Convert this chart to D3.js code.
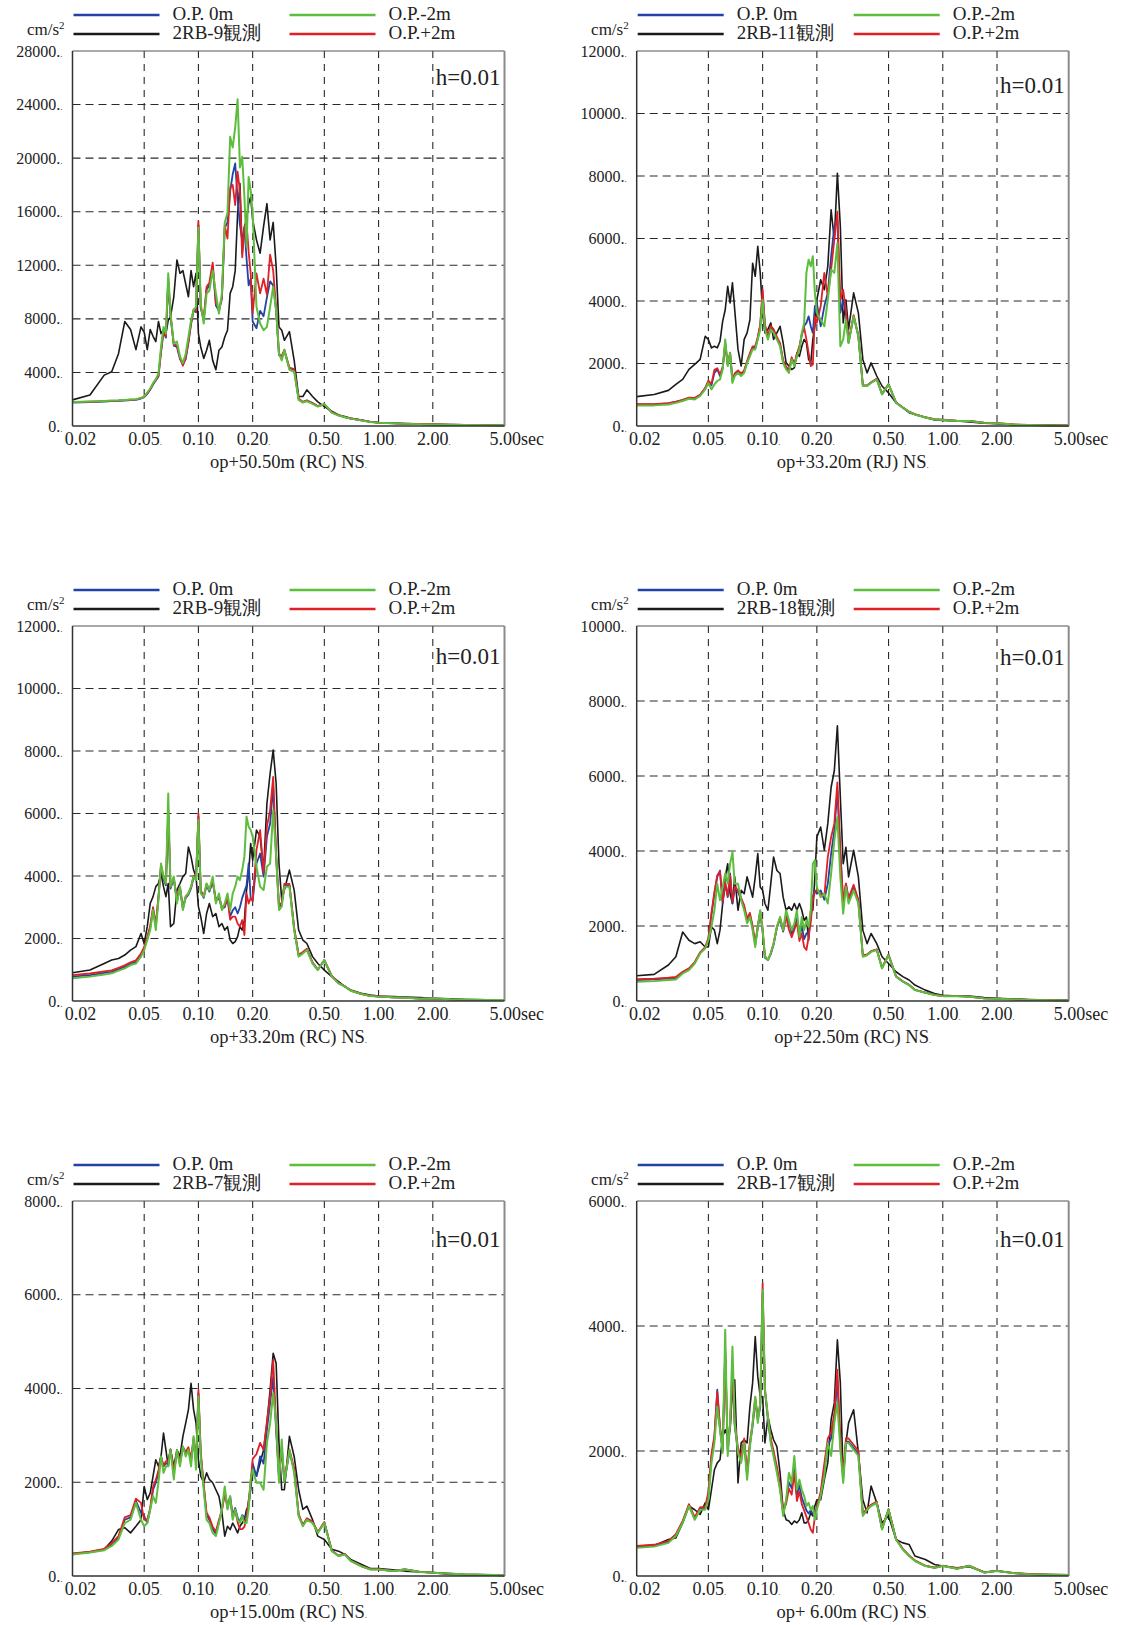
<!DOCTYPE html>
<html>
<head>
<meta charset="utf-8">
<script src="https://d3js.org/d3.v7.min.js"></script>
<style>
  body { margin: 0; background: #fff; }
  text { font-family: "Liberation Serif", "Times New Roman", serif; fill: #222; }
</style>
</head>
<body>
<svg id="chart" width="1121" height="1625"></svg>
<script>
// periods (sec) shared by every spectrum
var periods = [0.02,0.025,0.03,0.033,0.036,0.039,0.042,0.045,0.048,0.05,
  0.052,0.054,0.056,0.058,0.06,0.062,0.064,0.066,0.068,0.07,
  0.073,0.076,0.079,0.082,0.085,0.088,0.091,0.094,0.097,0.1,
  0.103,0.107,0.111,0.115,0.12,0.125,0.13,0.135,0.14,0.145,
  0.15,0.155,0.16,0.165,0.17,0.175,0.18,0.185,0.19,0.195,
  0.2,0.21,0.22,0.23,0.24,0.25,0.26,0.27,0.28,0.29,
  0.3,0.32,0.34,0.36,0.38,0.4,0.43,0.46,0.5,0.55,
  0.6,0.65,0.7,0.8,0.9,1.0,1.2,1.4,1.7,2.0,
  2.5,3.0,4.0,5.0];

var titles = ["op+50.50m (RC) NS", "op+33.20m (RJ) NS", "op+33.20m (RC) NS",
              "op+22.50m (RC) NS", "op+15.00m (RC) NS", "op+ 6.00m (RC) NS"];
var refNames = ["2RB-9観測", "2RB-11観測", "2RB-9観測", "2RB-18観測", "2RB-7観測", "2RB-17観測"];
var yMax = [28000, 12000, 12000, 10000, 8000, 6000];
var yStep = [4000, 2000, 2000, 2000, 2000, 2000];
var seriesNames = ["O.P. 0m", "O.P.-2m", "O.P.+2m"];
var xTicks = [0.02, 0.05, 0.1, 0.2, 0.5, 1, 2, 5];
var xTickText = ["0.02", "0.05", "0.10", "0.20", "0.50", "1.00", "2.00", "5.00"];
var xGrid = [0.05, 0.1, 0.2, 0.5, 1, 2];

// panel 1
var p1Black = [1950,2310,3800,4050,5400,7800,7200,5700,7400,7000,
  5700,7200,6700,6300,7800,6900,7200,6900,7900,8150,
  9650,12400,11400,11600,10600,9650,11600,10400,11400,6900,
  5900,5050,5650,6400,4900,4200,5650,5900,6650,7150,
  9900,10400,11600,15850,18100,12900,14900,15400,16600,17100,
  15400,13900,12900,14900,16600,13900,15200,11900,7400,7150,
  6400,7050,4900,2200,2200,2700,2200,1800,1450,1100,
  820,700,570,450,320,250,200,170,130,110,
  90,80,70,60];
var p1Blue = [1750,1780,1820,1850,1870,1900,1930,1960,2050,2150,
  2400,2700,3100,3400,3700,5500,7000,6600,10800,8200,
  6000,5900,5000,4600,5000,6200,7600,8600,8500,15000,
  8800,7900,10200,10500,12000,9000,8600,9500,14800,15200,
  17500,18800,19600,17000,15000,13900,14800,12500,10500,11000,
  7800,7300,8600,8200,9600,10800,10500,8600,5300,5100,
  5600,4300,4200,2000,1780,1900,1700,1480,1600,1020,
  800,660,560,430,310,245,205,175,145,125,
  100,80,60,50];
var p1Red = [1780,1810,1850,1880,1900,1930,1960,1990,2080,2180,
  2450,2750,3150,3450,3750,5600,7100,6700,11000,8300,
  6100,6000,5100,4500,5100,6300,7700,8700,8600,15300,
  8900,8000,10400,10700,12200,9200,8700,9600,15000,14000,
  17800,18000,16500,19000,17500,12600,14800,15200,13000,11400,
  8400,11400,9900,11000,9800,12800,11600,8800,5400,5200,
  5700,4350,4250,2050,1800,1920,1720,1500,1620,1030,
  810,670,565,435,315,250,210,180,150,130,
  105,85,65,55];
var p1Green = [1800,1830,1870,1900,1920,1950,1980,2000,2100,2200,
  2500,2800,3200,3500,3900,5900,7400,6900,11400,8400,
  6150,6300,5200,4700,5400,6650,7900,8650,8900,14800,
  9150,7650,9900,10100,11600,9900,8400,9900,15200,15900,
  21600,20800,22300,24400,19300,20100,17100,13400,18600,17600,
  15900,8900,7650,7150,7400,8900,10400,8650,5400,4900,
  5650,4200,4050,1950,1750,1850,1650,1450,1650,1000,
  780,650,550,420,300,240,200,170,140,120,
  100,80,60,50];

// panel 2
var p2Black = [940,1010,1140,1330,1490,1810,1970,2130,2870,2770,
  2500,2550,2500,2710,3350,3720,4470,3940,4580,3720,
  2450,1920,2770,2980,3400,5210,4790,5750,4900,3620,
  2980,3090,3300,2770,2980,3190,2660,2020,1920,1810,
  1860,2340,2230,2550,2770,2660,2130,2020,2770,3190,
  4040,4680,4360,5110,6920,5960,8090,6380,3300,4040,
  3090,4260,3620,2130,1700,2020,1600,1280,1060,745,
  585,425,370,270,190,180,160,130,90,75,
  40,30,20,15];
var p2Blue = [690,690,720,770,830,900,880,990,1200,1420,
  1300,1700,1810,1600,1850,2600,1950,2300,1450,1650,
  1750,1650,1750,2050,2300,2500,2500,2800,3200,4260,
  3200,2850,3150,3000,2800,2600,2050,1850,1750,2150,
  1950,2250,2500,2900,3200,3300,3510,3190,2980,3830,
  3940,3190,3830,4260,5430,6380,6600,3620,4040,3620,
  2660,3510,2870,1300,1290,1390,1500,1020,1330,750,
  590,455,375,275,215,195,165,160,100,85,
  45,30,20,15];
var p2Red = [700,700,730,780,840,910,900,1000,1220,1450,
  1350,1800,1850,1650,1880,2650,1980,2350,1480,1680,
  1780,1680,1780,2080,2330,2550,2550,2850,3250,4360,
  3250,2900,3200,3100,2850,2650,2100,1900,1800,2200,
  2000,2300,2550,2950,3150,2770,2340,1920,1970,3510,
  3300,3830,4900,4150,5000,5960,6860,4040,4360,3700,
  2700,3550,2900,1310,1300,1400,1510,1030,1340,755,
  595,460,380,280,220,200,170,165,105,90,
  48,32,22,16];
var p2Green = [660,660,690,740,800,870,850,960,1170,1380,
  1170,1330,1440,1490,1810,2770,1920,2340,1380,1600,
  1700,1600,1700,2020,2230,2450,2450,2770,3090,4040,
  3090,2770,3090,2980,2770,2550,2020,1810,1700,2130,
  1920,2230,2450,2980,3300,4900,5320,5110,5430,4260,
  3620,3400,3190,4040,5000,4900,5850,2550,2770,3400,
  2660,3510,2870,1280,1280,1380,1490,1010,1330,745,
  585,450,370,270,210,190,160,160,100,85,
  45,30,20,15];

// panel 3
var p3Black = [905,990,1200,1310,1360,1470,1630,1740,2160,1840,
  2380,3120,3340,3660,3760,4080,3660,3340,3760,2380,
  2480,3550,3760,3980,4080,4930,4620,4190,3980,3020,
  2700,2160,2800,3120,2700,2800,2380,2480,2270,2380,
  1950,1840,1900,2060,2380,2270,2590,3550,4080,5040,
  4510,5470,5260,4190,6320,7280,8030,6960,4400,3230,
  3550,4190,3550,2270,1950,1840,1420,1200,990,780,
  620,460,350,245,190,160,140,130,110,85,
  70,50,40,30];
var p3Blue = [780,830,900,930,1010,1090,1190,1250,1470,1680,
  2000,2350,2950,2400,3300,4300,3900,3700,6000,3600,
  3900,3200,3600,2950,3300,3400,3600,3950,3900,5900,
  3500,3300,3700,3500,3800,3200,3300,2950,3000,3300,
  2700,2900,3000,2800,3000,3300,3500,3700,4400,3300,
  3200,4400,4720,3980,5260,5680,6850,4620,3000,3100,
  3700,3700,2300,1450,1550,1650,1220,1000,1300,790,
  570,465,335,228,163,142,118,108,77,85,
  54,45,35,30];
var p3Red = [830,880,950,980,1060,1140,1240,1300,1520,1730,
  2050,2400,3000,2450,3350,4350,3950,3750,6100,3650,
  3950,3250,3650,3000,3350,3450,3650,4000,4000,6000,
  3550,3350,3750,3550,3850,3250,3350,3000,3050,3300,
  2600,2700,2700,2480,2380,2590,2110,3440,3120,3300,
  3200,4830,5470,4100,5580,6110,7170,4700,3050,3150,
  3750,3750,2350,1480,1570,1670,1240,1010,1310,800,
  575,470,340,230,165,145,120,110,78,86,
  55,46,36,31];
var p3Green = [725,780,850,885,970,1045,1150,1200,1420,1630,
  1950,2270,2910,2270,3230,4400,3980,3760,6640,3660,
  3980,3120,3660,2910,3340,3440,3660,3980,3870,5790,
  3440,3340,3760,3550,3980,3120,3440,2910,3120,3440,
  2910,3440,3660,3980,3870,4190,4620,5900,5580,5470,
  5260,4300,3660,3550,4300,4400,6110,4620,2910,3020,
  3660,3660,2270,1420,1520,1630,1200,990,1310,780,
  565,460,330,225,160,140,117,107,75,85,
  53,45,35,30];

// panel 4
var p4Black = [675,710,960,1180,1840,1620,1530,1580,1440,1440,
  1980,1890,1530,1890,2600,3310,3660,2860,2600,3310,
  2420,2950,2860,3310,3040,2770,3310,3930,3040,2950,
  2600,2420,3130,3840,3480,3400,2770,2420,2510,2420,
  2600,2420,2600,2420,2150,2240,1620,2420,2420,3310,
  4370,4640,4020,4730,5700,6140,7340,5430,3660,4100,
  3310,4020,3310,1890,1530,1800,1530,1180,1000,780,
  650,560,425,290,200,150,130,130,90,70,
  50,40,25,20];
var p4Blue = [560,575,600,620,760,850,1020,1280,1420,1650,
  2300,2860,3310,3480,2600,3130,2770,3400,2600,3000,
  2900,2700,2500,2150,2300,1950,1500,1950,2350,1850,
  1150,1090,1250,1500,1950,2200,1850,2300,2100,1800,
  1950,2200,1700,2000,1650,1800,1850,2200,2800,2950,
  2860,2950,2700,3130,3930,4550,5610,4020,2600,3130,
  2700,3050,2650,1200,1230,1320,1370,880,1230,655,
  520,430,295,222,162,132,131,116,71,61,
  41,31,21,16];
var p4Red = [580,595,620,640,780,870,1040,1300,1440,1680,
  2350,2900,3350,3450,2650,3150,2800,3350,2650,3050,
  2950,2750,2550,2200,2350,2000,1550,2000,2400,1900,
  1200,1100,1280,1520,1980,2220,1880,2250,1900,1700,
  1900,2100,1600,1800,1440,1360,1700,2100,2700,2900,
  2950,2850,2800,3840,4370,4730,5830,3930,2650,3130,
  2750,3100,2700,1220,1240,1330,1380,890,1240,660,
  525,435,300,225,165,135,132,117,72,62,
  42,32,22,17];
var p4Green = [515,530,560,575,735,825,1000,1270,1400,1620,
  1980,2420,3130,2690,3040,3400,3130,3660,3970,3130,
  3130,2690,2420,2070,2240,1890,1440,1980,2420,1890,
  1180,1090,1270,1530,1980,2240,1890,2420,2150,1890,
  2070,2420,1710,2240,1890,2150,1980,2420,3660,3750,
  3040,2770,2860,2600,3400,4280,4900,3310,2330,3040,
  2600,2950,2600,1180,1220,1310,1360,870,1220,650,
  515,425,290,220,160,130,130,115,70,60,
  40,30,20,15];

// panel 5
var p5Black = [475,510,570,745,990,1030,920,1060,1200,1910,
  1630,1770,2130,2480,2340,2550,3050,2690,2340,2690,
  2340,2690,2550,2980,3260,3550,4110,3550,3260,2480,
  2130,1990,2200,2060,1990,1840,1700,1350,850,1060,
  990,1130,1030,920,1060,1130,1200,1420,1490,1840,
  2270,2130,2410,2690,3260,3970,4750,4540,2840,1840,
  1840,2980,2550,1840,1420,1490,1200,850,780,570,
  530,460,355,250,160,160,130,105,85,70,
  35,28,20,15];
var p5Blue = [470,510,560,660,820,1200,1250,1600,1350,1280,
  1130,1420,1840,1990,2200,2550,2340,2400,2400,2700,
  2200,2650,2400,2750,2600,2700,2450,2900,2400,3900,
  2600,1900,1300,1200,1000,900,1150,1400,1800,1500,
  1700,1300,1450,1250,1150,1300,1250,1300,1600,1900,
  2400,2130,2550,2400,3120,3690,4250,3100,2100,2700,
  2000,2650,2250,1300,1080,1220,1150,930,1140,540,
  430,465,325,212,142,142,107,140,86,70,
  50,35,25,15];
var p5Red = [480,520,580,700,850,1250,1300,1650,1560,1200,
  1200,1450,1900,2050,2250,2550,2350,2450,2450,2700,
  2250,2650,2450,2750,2650,2750,2500,2950,2450,3970,
  2650,1950,1350,1250,1050,950,1200,1400,1750,1450,
  1650,1250,1400,1150,1000,1000,1050,1250,1600,2000,
  2500,2600,2840,2690,3300,3830,4610,3200,2150,2750,
  2050,2700,2300,1320,1090,1230,1160,940,1150,545,
  435,470,330,215,145,145,110,142,88,72,
  52,36,26,16];
var p5Green = [460,500,550,640,780,1130,1200,1560,1200,1060,
  1130,1420,1700,1560,1990,2550,2200,2340,2340,2690,
  2060,2690,2340,2770,2550,2690,2340,2980,2270,3830,
  2550,1840,1200,1130,920,850,1130,1420,1910,1420,
  1700,1200,1420,1200,1130,1280,1130,1130,1420,2060,
  2270,1990,1990,1840,2840,3260,3900,3260,1990,2910,
  1990,2690,2200,1280,1060,1200,1130,920,1130,530,
  425,460,320,210,140,140,105,140,85,70,
  50,35,25,15];

// panel 6
var p6Black = [480,490,585,610,850,1120,1060,985,1170,1060,
  1380,1700,1810,1860,2230,2340,2230,2340,2980,3140,
  1490,2130,2180,2130,2710,3090,3830,3190,2870,2870,
  2130,2550,2340,2180,2070,1650,1060,900,880,825,
  880,850,900,1010,850,850,900,1010,960,1120,
  1220,1220,1540,1810,2500,2770,3780,3090,1600,2130,
  2450,2660,1970,1220,1010,1440,1170,850,960,585,
  530,505,320,265,185,160,130,150,65,80,
  45,27,20,15];
var p6Blue = [470,490,550,660,870,1130,920,1080,1080,1300,
  1900,2200,2980,2350,2000,3620,2000,2400,3300,2400,
  2000,1850,2150,1600,2100,2400,2800,2500,2700,4520,
  2950,2500,2150,1950,1700,1400,1000,1200,1500,1400,
  1750,1300,1450,1250,1150,1050,1000,1050,1000,950,
  1100,1300,1700,2100,2200,2500,3140,2100,1550,2150,
  2150,2050,1950,980,1070,1130,1180,750,1065,590,
  430,325,245,162,132,162,117,162,56,81,
  46,31,21,16];
var p6Red = [480,500,560,670,880,1150,940,1100,1100,1350,
  1950,2250,2950,2400,2050,3550,2050,2450,3250,2450,
  2050,1900,2200,1650,2150,2450,2850,2550,2750,4680,
  3000,2550,2200,2000,1750,1450,1050,1150,1400,1300,
  1650,1200,1350,1150,1050,950,850,745,690,950,
  1100,1350,1800,2200,2300,2600,3300,2150,1600,2200,
  2200,2100,2000,1000,1080,1140,1190,760,1070,595,
  435,330,250,165,135,165,120,165,57,82,
  47,32,22,17];
var p6Green = [450,470,530,640,850,1120,900,1060,1060,1220,
  1810,2130,2710,2340,1970,3940,1920,2450,3670,2450,
  1970,1810,2130,1540,2070,2450,2870,2450,2770,4580,
  2980,2550,2130,1920,1650,1380,960,1220,1650,1490,
  1920,1380,1540,1380,1280,1120,1170,1060,1120,900,
  1060,1280,1600,2130,1920,2450,2770,2020,1490,2130,
  2130,2020,1920,960,1060,1120,1170,745,1060,585,
  425,320,240,160,130,160,115,160,55,80,
  45,30,20,15];

// order of drawing: observed (black), O.P. 0m, O.P.+2m, O.P.-2m
var panelSeries = [
  [p1Black, p1Blue, p1Red, p1Green],
  [p2Black, p2Blue, p2Red, p2Green],
  [p3Black, p3Blue, p3Red, p3Green],
  [p4Black, p4Blue, p4Red, p4Green],
  [p5Black, p5Blue, p5Red, p5Green],
  [p6Black, p6Blue, p6Red, p6Green]
];

var colors = ["#1a1a1a", "#2442a6", "#de2127", "#5dbd3d"];
var widths = [1.6, 1.8, 1.8, 2.0];

// layout
var W = 432, H = 375;
var colX = [72.5, 636.7], rowY = [51, 626, 1201];
var hLabelDy = [34, 42, 38, 39, 46, 46];

var svg = d3.select("#chart");
svg.append("rect").attr("width", 1121).attr("height", 1625).attr("fill", "#fff");

var x = d3.scaleLog().domain([0.02, 5]).range([0, W]);

panelSeries.forEach(function(series, i) {
  var g = svg.append("g")
    .attr("transform", "translate(" + colX[i % 2] + "," + rowY[Math.floor(i / 2)] + ")");
  var y = d3.scaleLinear().domain([0, yMax[i]]).range([H, 0]);
  var yTicks = d3.range(0, yMax[i] + 1, yStep[i]);

  // dashed grid
  g.selectAll(".hg").data(yTicks.slice(1, -1)).enter().append("line")
    .attr("x1", 0).attr("x2", W)
    .attr("y1", function(d) { return y(d); }).attr("y2", function(d) { return y(d); })
    .attr("stroke", "#2a2a2a").attr("stroke-width", 1.1).attr("stroke-dasharray", "8,5");
  g.selectAll(".vg").data(xGrid).enter().append("line")
    .attr("x1", function(d) { return x(d); }).attr("x2", function(d) { return x(d); })
    .attr("y1", 0).attr("y2", H)
    .attr("stroke", "#2a2a2a").attr("stroke-width", 1.1).attr("stroke-dasharray", "7,6");

  // spectra
  var line = d3.line()
    .x(function(d, k) { return x(periods[k]); })
    .y(function(d) { return y(d); });
  series.forEach(function(vals, s) {
    g.append("path")
      .datum(vals)
      .attr("d", line)
      .attr("fill", "none")
      .attr("stroke", colors[s])
      .attr("stroke-width", widths[s])
      .attr("stroke-linejoin", "round");
  });

  // frame
  g.append("line").attr("x1", 0).attr("x2", W).attr("y1", 0).attr("y2", 0)
    .attr("stroke", "#555").attr("stroke-width", 1.2);
  g.append("line").attr("x1", W).attr("x2", W).attr("y1", 0).attr("y2", H)
    .attr("stroke", "#8a8a8a").attr("stroke-width", 2);
  g.append("line").attr("x1", 0).attr("x2", 0).attr("y1", 0).attr("y2", H)
    .attr("stroke", "#333").attr("stroke-width", 1.5);
  g.append("line").attr("x1", 0).attr("x2", W).attr("y1", H).attr("y2", H)
    .attr("stroke", "#333").attr("stroke-width", 1.5);

  // y tick labels
  var yl = g.selectAll(".yl").data(yTicks).enter().append("text")
    .attr("x", -10).attr("y", function(d) { return y(d) + 5.5; })
    .attr("text-anchor", "end").style("font-size", "16px")
    .text(function(d) { return d + "."; });
  yl.append("tspan").style("font-size", "9px").text(".");

  // x tick labels
  xTicks.forEach(function(t, k) {
    var tx = g.append("text").attr("y", H + 19).style("font-size", "18px");
    if (k === 0) {
      tx.attr("x", x(t) + 8).attr("text-anchor", "middle").text(xTickText[k]);
    } else if (k === xTicks.length - 1) {
      tx.attr("x", x(t) - 15).attr("text-anchor", "start").text(xTickText[k] + "sec");
    } else {
      tx.attr("x", x(t) + 1).attr("text-anchor", "middle").text(xTickText[k]);
      tx.append("tspan").style("font-size", "9px").text(".");
    }
  });

  // panel title
  var tt = g.append("text").attr("x", W / 2).attr("y", H + 42)
    .attr("text-anchor", "middle").style("font-size", "18.5px").text(titles[i]);
  tt.append("tspan").style("font-size", "9px").text(".");

  // damping label
  g.append("text").attr("x", W - 4).attr("y", hLabelDy[i])
    .attr("text-anchor", "end").style("font-size", "23px").text("h=0.01");

  // unit
  var u = g.append("text").attr("x", -8).attr("y", -16)
    .attr("text-anchor", "end").style("font-size", "17px").text("cm/s");
  u.append("tspan").attr("dy", -6).style("font-size", "11px").text("2");

  // legend
  var leg = [
    { c: colors[1], t: seriesNames[0], lx: 0, ly: -36 },
    { c: colors[0], t: refNames[i], lx: 0, ly: -17 },
    { c: colors[3], t: seriesNames[1], lx: 216, ly: -36 },
    { c: colors[2], t: seriesNames[2], lx: 216, ly: -17 }
  ];
  leg.forEach(function(l) {
    g.append("line").attr("x1", l.lx + 1).attr("x2", l.lx + 87)
      .attr("y1", l.ly).attr("y2", l.ly)
      .attr("stroke", l.c).attr("stroke-width", 2.4);
    g.append("text").attr("x", l.lx + 100).attr("y", l.ly + 5)
      .style("font-size", "19px").text(l.t);
  });
});
</script>
</body>
</html>
